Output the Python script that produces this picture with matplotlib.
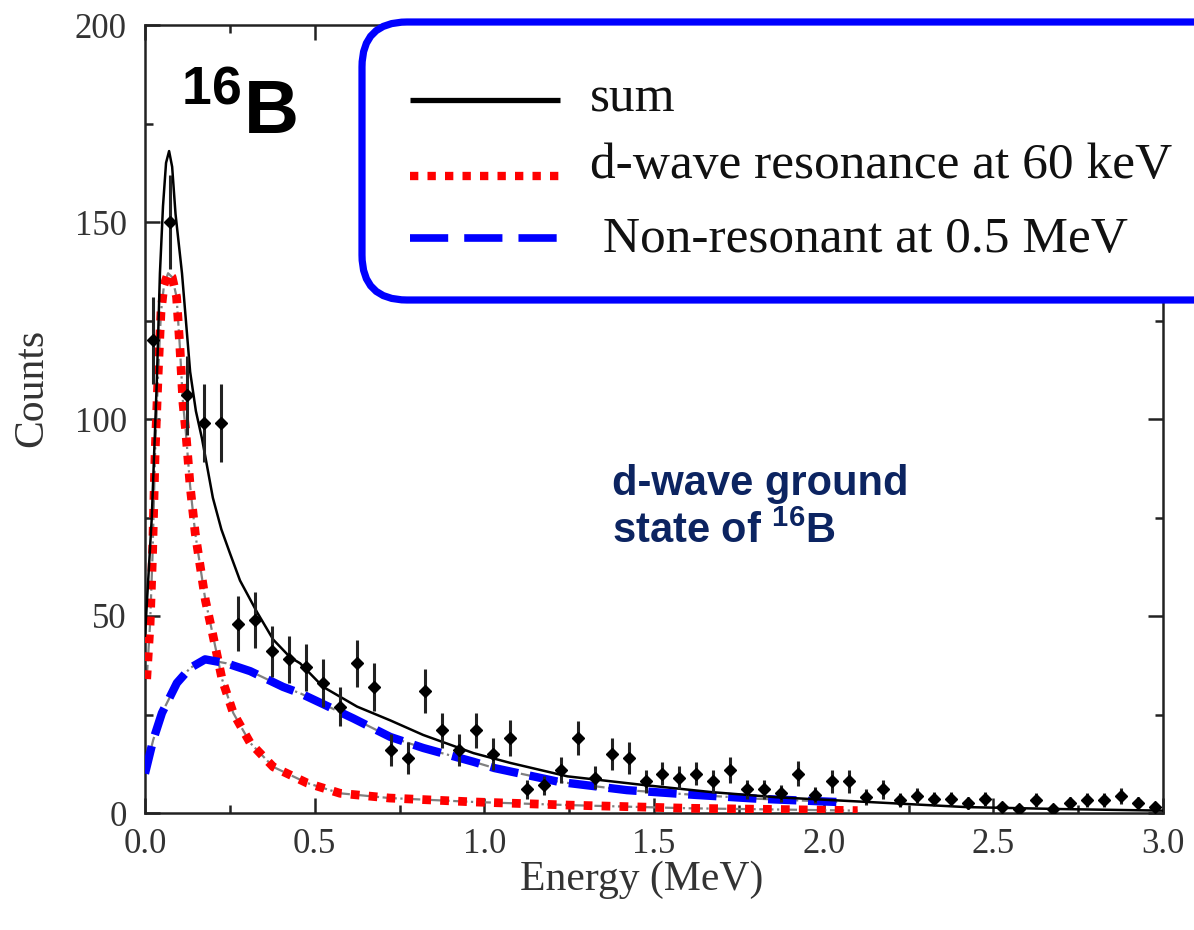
import matplotlib
matplotlib.use('Agg')
import matplotlib.pyplot as plt
from matplotlib.patches import FancyBboxPatch
from matplotlib.ticker import MultipleLocator

# mathtext superscripts in bold Arial-like font
plt.rcParams['mathtext.fontset'] = 'custom'
plt.rcParams['mathtext.rm'] = 'Liberation Sans:bold'
plt.rcParams['mathtext.bf'] = 'Liberation Sans:bold'

# Measured spectrum (bin centres, counts, errors)
energy = [0.025, 0.075, 0.125, 0.175, 0.225, 0.275, 0.325, 0.375, 0.425, 0.475,
          0.525, 0.575, 0.625, 0.675, 0.725, 0.775, 0.825, 0.875, 0.925, 0.975,
          1.025, 1.075, 1.125, 1.175, 1.225, 1.275, 1.325, 1.375, 1.425, 1.475,
          1.525, 1.575, 1.625, 1.675, 1.725, 1.775, 1.825, 1.875, 1.925, 1.975,
          2.025, 2.075, 2.125, 2.175, 2.225, 2.275, 2.325, 2.375, 2.425, 2.475,
          2.525, 2.575, 2.625, 2.675, 2.725, 2.775, 2.825, 2.875, 2.925, 2.975]
counts = [120, 150, 106, 99, 99, 48, 49, 41, 39, 37,
          33, 27, 38, 32, 16, 14, 31, 21, 16, 21,
          15, 19, 6, 7, 11, 19, 9, 15, 14, 8,
          10, 9, 10, 8, 11, 6, 6, 5, 10, 4.5,
          8, 8, 4, 6, 3.3, 4.3, 3.6, 3.6, 2.5, 3.6,
          1.5, 1, 3.3, 1, 2.5, 3.3, 3.3, 4.3, 2.5, 1.5]
errors = [11, 12, 10, 10, 10, 7, 7, 6.5, 6, 6,
          6, 5, 6, 6, 4, 4, 5.5, 4.5, 4, 4.5,
          4, 4.5, 2.5, 2.5, 3.3, 4.3, 3, 4, 4, 3,
          3, 3, 3, 3, 3.3, 2.5, 2.5, 2.2, 3.2, 2,
          2.8, 2.8, 2, 2.5, 1.8, 2, 1.8, 1.8, 1.5, 1.8,
          1.2, 1, 1.8, 1, 1.5, 1.8, 1.8, 2, 1.5, 1.2]

# Fit components
sum_x = [0.0, 0.02, 0.035, 0.044, 0.053, 0.062, 0.071, 0.08, 0.09, 0.109,
         0.133, 0.15, 0.168, 0.183, 0.2, 0.225, 0.25, 0.28, 0.33, 0.378,
         0.428, 0.457, 0.525, 0.625, 0.723, 0.82, 0.968, 1.077, 1.245, 1.47,
         1.67, 1.86, 2.13, 2.42, 2.7, 3.0]
sum_y = [45, 75, 110, 137, 154, 165, 168, 164, 152, 137,
         112, 102, 95, 88, 80, 72, 66, 59, 51, 44,
         39.5, 38, 32, 27, 23.5, 19.8, 15.2, 12.7, 9.3, 7.1,
         5.3, 4.0, 2.8, 1.5, 1.0, 0.6]

dwave_x = [0.005, 0.015, 0.022, 0.030, 0.039, 0.047, 0.056, 0.068, 0.080, 0.093,
           0.103, 0.112, 0.120, 0.133, 0.148, 0.162, 0.178, 0.198, 0.227, 0.26,
           0.31, 0.378, 0.478, 0.575, 0.72, 0.97, 1.25, 1.6, 2.1]
dwave_y = [34, 48, 65, 92, 112, 127, 134, 137, 136, 131,
           118, 104, 97, 83, 71, 63, 54, 46, 34, 25.4,
           17.8, 11.7, 7.6, 5.0, 3.8, 2.8, 2.0, 1.2, 0.6]

nonres_x = [0.0, 0.024, 0.05, 0.094, 0.133, 0.177, 0.24, 0.31, 0.407, 0.457,
            0.516, 0.614, 0.723, 0.82, 0.968, 1.03, 1.22, 1.42, 1.62, 1.81,
            1.98, 2.04]
nonres_y = [10, 18.5, 25.4, 33, 36.8, 39, 38, 36, 32, 30.4,
            28, 24, 19.3, 16.5, 13, 11.4, 7.9, 5.8, 4.6, 3.6,
            3.0, 2.8]

W, H = 1194, 930
fig = plt.figure(figsize=(W / 100, H / 100), dpi=100)
ax = fig.add_axes([145 / W, 1 - 813 / H, (1163 - 145) / W, (813 - 25) / H])

serif = 'Liberation Serif'
tick_col = '#333333'

# Fit curves (grey original line under the coloured overlays)
ax.plot(dwave_x, dwave_y, color='#808080', lw=1.6, ls='-.', zorder=2)
ax.plot(dwave_x, dwave_y, color='#ff0000', lw=6.3, ls=(0, (1, 1.05)), zorder=3)
ax.plot(nonres_x, nonres_y, color='#808080', lw=1.6, ls='-.', zorder=2)
ax.plot(nonres_x, nonres_y, color='#0000ff', lw=6.0, ls=(0, (3.4, 1.4)), zorder=3)
ax.plot(sum_x, sum_y, color='black', lw=1.8, zorder=4)

# Data points
ax.errorbar(energy, counts, yerr=errors, xerr=0.008, fmt='D', color='black',
            ms=6, elinewidth=2.2, ecolor='#222222', capsize=0, zorder=5)

ax.set_xlim(0, 3)
ax.set_ylim(0, 200)
ax.xaxis.set_major_locator(MultipleLocator(0.5))
ax.xaxis.set_minor_locator(MultipleLocator(0.25))
ax.yaxis.set_major_locator(MultipleLocator(50))
ax.yaxis.set_minor_locator(MultipleLocator(25))
ax.tick_params(which='both', direction='in', top=True, right=True, width=1.8,
               color='#222222')
ax.tick_params(which='major', length=11)
ax.tick_params(which='minor', length=6)
ax.tick_params(axis='y', pad=13, labelsize=25, labelcolor=tick_col)
ax.tick_params(axis='x', pad=11, labelsize=25, labelcolor=tick_col)
ax.xaxis.set_major_formatter(plt.FormatStrFormatter('%.1f'))
for lab in ax.get_xticklabels() + ax.get_yticklabels():
    lab.set_family(serif)
for sp in ax.spines.values():
    sp.set_linewidth(1.8)
    sp.set_color('#222222')

ax.set_xlabel('Energy (MeV)', family=serif, fontsize=30, color=tick_col)
ax.set_ylabel('Counts', family=serif, fontsize=30, color=tick_col)
ax.xaxis.set_label_coords((642 - 145) / (1163 - 145), -(880 - 813) / (813 - 25))
ax.yaxis.set_label_coords(-(145 - 32) / (1163 - 145), (813 - 388) / (813 - 25))
ax.xaxis.label.set_va('center')
ax.yaxis.label.set_va('center')

# Overlay in pixel coordinates for legend and annotations
ov = fig.add_axes([0, 0, 1, 1])
ov.set_xlim(0, W)
ov.set_ylim(H, 0)
ov.axis('off')
ov.set_zorder(10)

box = FancyBboxPatch((362, 22), 900, 278, boxstyle='round,pad=0,rounding_size=45',
                     fc='white', ec='#0000ff', lw=5.2)
ov.add_patch(box)

ov.plot([410, 560], [100, 100], color='black', lw=3.8, solid_capstyle='butt')
ov.plot([410, 560], [176, 176], color='#ff0000', lw=6.0, ls=(0, (1, 1.1)))
ov.plot([410, 560], [238, 238], color='#0000ff', lw=5.5, ls=(0, (5, 2.1)))

ov.text(590, 111, 'sum', family=serif, fontsize=37, va='baseline', color='#111111')
ov.text(590, 178, 'd-wave resonance at 60 keV', family=serif, fontsize=37,
        va='baseline', color='#111111')
ov.text(590, 252, ' Non-resonant at 0.5 MeV', family=serif, fontsize=37,
        va='baseline', color='#111111')

ov.text(181, 135, r'$^{16}$B', family='Liberation Sans', fontweight='bold',
        fontsize=55, va='baseline', color='black')

navy = '#0c2461'
ov.text(612, 495, 'd-wave ground', family='Liberation Sans', fontweight='bold',
        fontsize=30, va='baseline', color=navy)
ov.text(612, 543, r'state of $^{16}$B', family='Liberation Sans', fontweight='bold',
        fontsize=30, va='baseline', color=navy)

fig.savefig('out.png', dpi=100)
